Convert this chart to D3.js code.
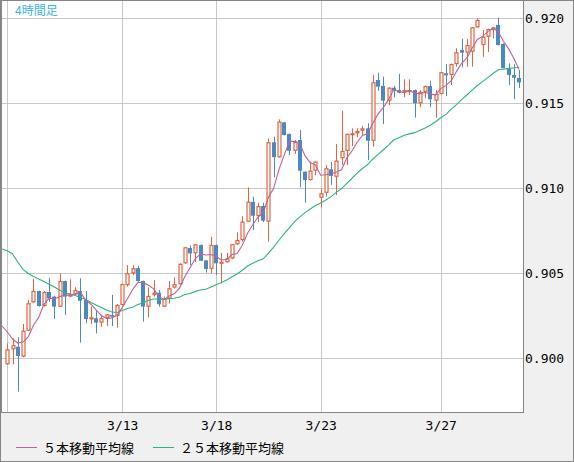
<!DOCTYPE html>
<html>
<head>
<meta charset="utf-8">
<script src="https://cdnjs.cloudflare.com/ajax/libs/d3/7.8.5/d3.min.js"></script>
<style>
  html, body { margin: 0; padding: 0; background: #f0f0f0; overflow: hidden; }
</style>
</head>
<body>
<script>
// 4時間足 — candle values
var opens = [
  0.89963, 0.90051, 0.90066, 0.90008, 0.90161, 0.90328, 0.90394, 0.90306, 0.90388, 0.90361,
  0.90302, 0.90453, 0.90361, 0.90374, 0.90394, 0.90341, 0.90229, 0.90234, 0.90208, 0.90234,
  0.90253, 0.90247, 0.90312, 0.90429, 0.90498, 0.90528, 0.90453, 0.90302, 0.90372, 0.90384,
  0.90302, 0.90350, 0.90414, 0.90434, 0.90557, 0.90647, 0.90616, 0.90665, 0.90574, 0.90525,
  0.90665, 0.90557, 0.90563, 0.90586, 0.90669, 0.90694, 0.90802, 0.90919, 0.90835, 0.90894,
  0.90802, 0.91269, 0.91181, 0.91386, 0.91318, 0.91219, 0.91282, 0.91096, 0.91047, 0.91102,
  0.90943, 0.90972, 0.91110, 0.91066, 0.91175, 0.91218, 0.91312, 0.91322, 0.91337, 0.91351,
  0.91278, 0.91635, 0.91600, 0.91514, 0.91590, 0.91576, 0.91561, 0.91566, 0.91576, 0.91498,
  0.91566, 0.91600, 0.91514, 0.91553, 0.91675, 0.91665, 0.91729, 0.91812, 0.91796, 0.91802,
  0.91945, 0.91841, 0.91890, 0.91929, 0.91959, 0.91847, 0.91704, 0.91665, 0.91647
];
var highs = [
  0.90086, 0.90116, 0.90122, 0.90200, 0.90341, 0.90465, 0.90396, 0.90394, 0.90471, 0.90366,
  0.90498, 0.90455, 0.90463, 0.90416, 0.90469, 0.90394, 0.90302, 0.90276, 0.90253, 0.90259,
  0.90371, 0.90318, 0.90437, 0.90547, 0.90547, 0.90541, 0.90455, 0.90416, 0.90459, 0.90400,
  0.90361, 0.90453, 0.90474, 0.90557, 0.90653, 0.90662, 0.90669, 0.90668, 0.90577, 0.90714,
  0.90667, 0.90618, 0.90618, 0.90670, 0.90739, 0.90835, 0.91004, 0.90949, 0.90914, 0.90914,
  0.91292, 0.91302, 0.91404, 0.91388, 0.91320, 0.91282, 0.91341, 0.91097, 0.91155, 0.91156,
  0.90998, 0.91135, 0.91153, 0.91259, 0.91455, 0.91320, 0.91351, 0.91351, 0.91365, 0.91381,
  0.91665, 0.91678, 0.91655, 0.91591, 0.91600, 0.91671, 0.91639, 0.91639, 0.91579, 0.91576,
  0.91602, 0.91631, 0.91576, 0.91682, 0.91729, 0.91732, 0.91822, 0.91879, 0.91876, 0.91947,
  0.91998, 0.91929, 0.91937, 0.91947, 0.92003, 0.91851, 0.91734, 0.91728, 0.91694
];
var lows = [
  0.89960, 0.89963, 0.89802, 0.90004, 0.90159, 0.90324, 0.90302, 0.90302, 0.90331, 0.90229,
  0.90300, 0.90253, 0.90359, 0.90371, 0.90090, 0.90204, 0.90200, 0.90145, 0.90184, 0.90188,
  0.90188, 0.90178, 0.90310, 0.90419, 0.90488, 0.90449, 0.90214, 0.90239, 0.90361, 0.90302,
  0.90300, 0.90322, 0.90408, 0.90432, 0.90555, 0.90547, 0.90565, 0.90570, 0.90502, 0.90498,
  0.90488, 0.90439, 0.90562, 0.90581, 0.90665, 0.90684, 0.90800, 0.90753, 0.90800, 0.90800,
  0.90684, 0.91063, 0.91179, 0.91309, 0.91194, 0.91200, 0.91004, 0.90914, 0.91045, 0.91076,
  0.90886, 0.90949, 0.91018, 0.90959, 0.91135, 0.91135, 0.91247, 0.91298, 0.91312, 0.91165,
  0.91243, 0.91572, 0.91376, 0.91488, 0.91534, 0.91557, 0.91534, 0.91547, 0.91414, 0.91475,
  0.91528, 0.91475, 0.91414, 0.91551, 0.91541, 0.91606, 0.91714, 0.91709, 0.91714, 0.91714,
  0.91944, 0.91772, 0.91800, 0.91880, 0.91839, 0.91704, 0.91606, 0.91522, 0.91588
];
var closes = [
  0.90051, 0.90075, 0.90012, 0.90161, 0.90322, 0.90394, 0.90306, 0.90388, 0.90351, 0.90302,
  0.90453, 0.90361, 0.90376, 0.90400, 0.90337, 0.90229, 0.90239, 0.90208, 0.90234, 0.90257,
  0.90243, 0.90312, 0.90435, 0.90498, 0.90528, 0.90453, 0.90302, 0.90365, 0.90384, 0.90316,
  0.90350, 0.90410, 0.90434, 0.90554, 0.90651, 0.90615, 0.90668, 0.90572, 0.90524, 0.90665,
  0.90557, 0.90566, 0.90586, 0.90669, 0.90694, 0.90802, 0.90919, 0.90837, 0.90894, 0.90808,
  0.91269, 0.91181, 0.91390, 0.91312, 0.91219, 0.91272, 0.91102, 0.91047, 0.91102, 0.91155,
  0.90969, 0.91116, 0.91071, 0.91161, 0.91218, 0.91318, 0.91322, 0.91335, 0.91351, 0.91278,
  0.91622, 0.91596, 0.91514, 0.91590, 0.91572, 0.91561, 0.91576, 0.91576, 0.91498, 0.91566,
  0.91600, 0.91522, 0.91553, 0.91681, 0.91663, 0.91729, 0.91798, 0.91796, 0.91841, 0.91945,
  0.91988, 0.91890, 0.91935, 0.91945, 0.91841, 0.91706, 0.91665, 0.91649, 0.91621
];

// moving averages at the left edge (earlier candles are off the chart), index -1 onward
var ma5Lead = [0.90188, 0.90153, 0.90112, 0.90088, 0.90094];
var ma25Lead = [
  0.90641, 0.90631, 0.90612, 0.90565, 0.90521, 0.90497, 0.90479, 0.90465, 0.90450, 0.90434,
  0.90418, 0.90400, 0.90385, 0.90376, 0.90368, 0.90356, 0.90344, 0.90326, 0.90312, 0.90297,
  0.90282, 0.90271, 0.90268, 0.90279, 0.90291
];

// date ticks (candle index where the day starts)
var dayIndex = [0, 22, 40, 60, 83];
var dayLabels = ["", "3/13", "3/18", "3/23", "3/27"];
var priceTicks = [0.900, 0.905, 0.910, 0.915, 0.920];

var W = 574, H = 462;
var plot = { left: 1, top: 1, right: 523, bottom: 412 };

var upColor = "#e0643f", downColor = "#4a89c2";
var ma5Color = "#c0619a", ma25Color = "#2cb57a";

var svg = d3.select("body").append("svg")
  .attr("width", W).attr("height", H)
  .style("display", "block");

// frame
svg.append("rect")
  .attr("x", 0.5).attr("y", 0.5)
  .attr("width", W - 1).attr("height", H - 1)
  .attr("fill", "#f0f0f0").attr("stroke", "#858585");

svg.append("rect")
  .attr("x", plot.left + 0.5).attr("y", plot.top - 0.5)
  .attr("width", plot.right - plot.left).attr("height", plot.bottom - plot.top + 1)
  .attr("fill", "#fff").attr("stroke", "#858585");

svg.append("line")
  .attr("x1", 1.5).attr("x2", 1.5).attr("y1", 0).attr("y2", plot.bottom)
  .attr("stroke", "#858585");

// scales
var x = d3.scaleLinear().domain([0, closes.length - 1]).range([7.33, 519.1]);
var y = d3.scaleLinear().domain([0.900, 0.920]).range([358, 18]);

svg.append("clipPath").attr("id", "clip")
  .append("rect")
  .attr("x", plot.left + 1).attr("y", plot.top)
  .attr("width", plot.right - plot.left - 1).attr("height", plot.bottom - plot.top);

var g = svg.append("g").attr("clip-path", "url(#clip)");

// grid
g.selectAll("line.hgrid").data(priceTicks).enter().append("line")
  .attr("class", "hgrid")
  .attr("x1", plot.left).attr("x2", plot.right)
  .attr("y1", d => Math.round(y(d)) + 0.5).attr("y2", d => Math.round(y(d)) + 0.5)
  .attr("stroke", "#c8c8c8");

g.selectAll("line.vgrid").data(dayIndex).enter().append("line")
  .attr("class", "vgrid")
  .attr("x1", d => Math.round(x(d)) + 0.5).attr("x2", d => Math.round(x(d)) + 0.5)
  .attr("y1", plot.top).attr("y2", plot.bottom)
  .attr("stroke", "#c8c8c8");

// candles
var candles = closes.map((c, i) => ({ i: i, o: opens[i], h: highs[i], l: lows[i], c: c }));

var cg = g.selectAll("g.candle").data(candles).enter().append("g")
  .attr("class", "candle");

cg.append("line")
  .attr("x1", d => Math.round(x(d.i)) + 0.5).attr("x2", d => Math.round(x(d.i)) + 0.5)
  .attr("y1", d => y(d.h)).attr("y2", d => y(d.l))
  .attr("stroke", d => d.c >= d.o ? upColor : downColor)
  .attr("stroke-width", 1);

cg.append("rect")
  .attr("x", d => Math.round(x(d.i)) - 1.5 + (d.c >= d.o ? 0.5 : -0.5))
  .attr("width", d => d.c >= d.o ? 3 : 4)
  .attr("y", d => y(Math.max(d.o, d.c)) + (d.c >= d.o ? 0.5 : 0))
  .attr("height", d => Math.max(1, y(Math.min(d.o, d.c)) - y(Math.max(d.o, d.c)) - (d.c >= d.o ? 1 : 0)))
  .attr("fill", d => d.c >= d.o ? "#fff" : downColor)
  .attr("stroke", d => d.c >= d.o ? upColor : "none")
  .attr("stroke-width", 1.2);

// moving averages
function movingAverage(n, lead) {
  var pts = lead.map((v, k) => ({ i: k - 1, v: v }));
  for (var i = n - 1; i < closes.length; i++) {
    pts.push({ i: i, v: d3.mean(closes.slice(i - n + 1, i + 1)) });
  }
  return pts;
}

var line = d3.line().x(d => x(d.i)).y(d => y(d.v));

g.append("path").datum(movingAverage(25, ma25Lead))
  .attr("d", line).attr("fill", "none")
  .attr("stroke", ma25Color).attr("stroke-width", 1.1);

g.append("path").datum(movingAverage(5, ma5Lead))
  .attr("d", line).attr("fill", "none")
  .attr("stroke", ma5Color).attr("stroke-width", 1.1);

// title
svg.append("text")
  .attr("x", 15).attr("y", 15)
  .attr("font-family", "'Noto Sans CJK JP', sans-serif")
  .attr("font-size", 12)
  .attr("fill", "#3cb5e6")
  .text("4時間足");

// price axis
var yAxis = svg.append("g")
  .attr("transform", `translate(${plot.right},0)`)
  .call(d3.axisRight(y).tickValues(priceTicks).tickFormat(d3.format(".3f")).tickSize(0).tickPadding(2));
yAxis.select(".domain").remove();
yAxis.selectAll("text")
  .attr("font-family", "'DejaVu Sans Mono', monospace")
  .attr("font-size", 13)
  .attr("fill", "#000");

// date axis
var xAxis = svg.append("g")
  .attr("transform", `translate(0,${plot.bottom})`)
  .call(d3.axisBottom(x).tickValues(dayIndex).tickFormat((d, k) => dayLabels[k]).tickSize(0).tickPadding(9));
xAxis.select(".domain").remove();
xAxis.selectAll("text")
  .attr("font-family", "'DejaVu Sans Mono', monospace")
  .attr("font-size", 13)
  .attr("fill", "#000");

// legend
var legend = [
  { label: "５本移動平均線", color: ma5Color, x: 16 },
  { label: "２５本移動平均線", color: ma25Color, x: 153 }
];
var lg = svg.selectAll("g.legend").data(legend).enter().append("g")
  .attr("class", "legend")
  .attr("transform", d => `translate(${d.x},447)`);
lg.append("line")
  .attr("x1", 0).attr("x2", 21).attr("y1", 0.5).attr("y2", 0.5)
  .attr("stroke", d => d.color);
lg.append("text")
  .attr("x", 27).attr("y", 6)
  .attr("font-family", "'Noto Sans CJK JP', sans-serif")
  .attr("font-size", 13)
  .attr("fill", "#000")
  .text(d => d.label);
</script>
</body>
</html>
